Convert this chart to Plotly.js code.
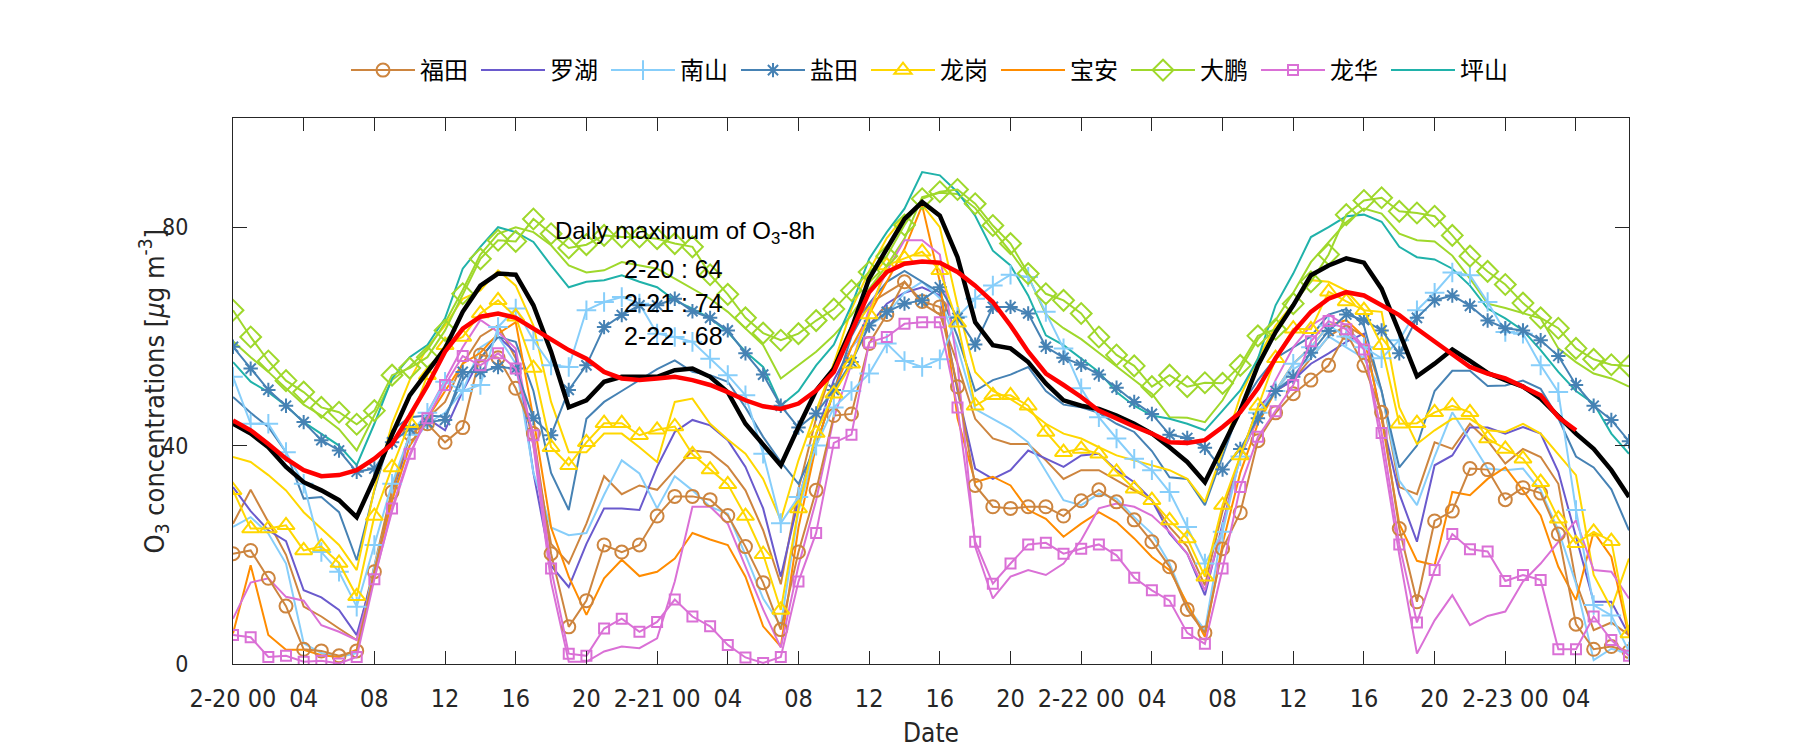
<!DOCTYPE html>
<html><head><meta charset="utf-8">
<script src="https://cdn.plot.ly/plotly-3.0.1.min.js"></script>
<style>body{margin:0;background:#fff}#c{width:1800px;height:750px}</style>
</head><body><div id="c"></div>
<script>
// ---- data (hourly, 2-20 00 .. 2-23 07) ----
const tickVals = [0,4,8,12,16,20,24,28,32,36,40,44,48,52,56,60,64,68,72,76];
const tickText = ['2-20 00','04','08','12','16','20','2-21 00','04','08','12','16','20','2-22 00','04','08','12','16','20','2-23 00','04'];
const yTicks = [0,40,80];

const futian_m = [20.2,20.8,15.7,10.6,2.7,2.4,1.5,2.4,16.9,31.5,42.2,44.0,40.6,43.3,56.6,56.1,50.5,42.2,20.2,6.8,11.6,21.8,20.5,21.8,27.1,30.7,30.7,30.1,27.2,21.5,14.9,6.3,20.5,31.8,45.5,45.8,58.7,64.0,70.0,66.4,65.4,50.8,32.7,28.8,28.5,28.8,28.8,27.1,29.9,31.9,29.7,26.4,22.4,17.8,10.0,5.7,21.1,27.7,40.9,46,49.5,52.0,54.7,60.7,54.7,46.1,24.8,11.4,26.2,28.0,35.8,35.6,30.1,32.3,31.3,23.8,7.3,2.7,3.2,2.3];
const futian_p = [25.7,31.9,26,20,10.5,8.7,6.5,4.4,18,32,42,45,48,55,60,62,56,40,22,18.4,25.7,34.4,31.1,32.7,31.9,35.5,39.1,38.8,36.2,31.8,24.5,14.6,32,45,55,62,66,68,70,66,64,55,44.9,41.3,40.3,40.3,37.3,33.9,35.5,35.5,33.6,31.8,30.0,25.1,21.5,14.4,28,38,45,50,52,56,60,62,60,50,32.4,31.1,40.6,39.4,44.0,40.9,36.7,39.4,37.9,33.0,15,6.2,7.6,5.3];
const luohu = [32.4,28,24.5,22.5,13.5,12.2,9.9,5.3,17,30,42,45,42.8,50,56,60,57,35,18,14.1,22,28.5,28.5,28.2,36.1,42.5,44.7,43.7,41,36.1,28.5,16.0,30,42,52,58,62,66,68,69,67.5,50,35.8,33.9,35.5,39.1,37.6,36.1,38.2,38.5,35.5,33.3,30.0,23.9,20.2,12.6,25.7,38,47,50,52,55.0,56.9,59.0,60.5,45,31.2,22.4,36.4,38.2,43.3,43.3,42.2,43.4,42.2,35.2,23.3,11.4,11.4,5.3];
const nanshan_m = [52.6,44.0,44.0,38.8,33.0,20.5,16.9,10.5,21.8,33,42,46,51.7,50,51.1,61.7,65.1,59.3,54.7,54.4,64.8,66.3,67.2,66.0,60.5,59.9,59.0,55.9,52.9,49.2,38.5,25.8,30.6,40,47,50,53.2,58.7,55.5,54.4,55.8,63.6,66.9,69.3,71.3,70.9,64.5,57.8,50.5,45.2,41.3,37.6,35.5,31.5,25.1,18.4,24.2,38,46,50,55,58,62,60,58,56,59.3,64.8,68,71.7,71.2,66.3,60.8,60.5,54.7,49.8,28.2,10.8,8.9,2.3];
const nanshan_p = [25.1,26.9,23.9,18.4,3.8,2.0,1.3,2.0,18,30,40,44,46,50,58,60,55,35,25,23.6,24.0,31,37.3,34.9,28.5,34.4,31.8,28.8,27.5,20,12,7.1,28,40,50,58,62,64,68,70,67,58,46.7,44.9,43.1,40.6,35.2,30.0,29.1,31.2,30.3,26.9,23.9,18.4,10.5,6.2,25,38,46,50,54,56,60,58,56,50,33.6,29.1,38,46.1,41,35.8,35.5,35.8,31.8,24.5,14.7,0.7,2.8,1.9];
const yantian_m = [58.1,54.1,50.2,47.3,44.3,41.0,39.1,35.2,35.8,40.6,43.1,44.3,44.7,53.5,53.5,54.4,54.1,45,41.9,50.2,54.7,61.7,63.9,65.7,65.7,66.9,64.6,63.4,61.1,56.9,53.0,47.3,43.3,45.9,50.2,55.3,62,64.5,66,66.6,69.0,63.4,58.5,65.4,65.4,64.2,58.1,56.1,54.8,53.0,50.6,48.0,45.8,42.0,41.4,39.6,35.6,39.4,45,50,52.6,57,61,64,63,61.1,56.9,63.4,66.6,67.5,65.6,62.9,61.5,61.1,59.3,56.4,51.1,47.3,44.7,40.8];
const yantian_p = [48.9,46,43.4,38.8,30.3,30.6,27.8,19.0,31.8,42.8,45.2,45.5,45.3,52,56,59.9,59.0,50,35,28.2,44.9,48.0,50,52,54,55.6,53.5,52.9,51.7,47,41.6,37,33.0,40,50,60,66,70,72,70,68,60,50,52,53,54.4,50,47.5,47,46,44,42.5,39,34.2,33.9,29.1,38,47,52,56,58,60,64,65,62,50,36,40,50,53.7,53.7,50.9,51.0,51.9,50.4,45,38,36,32,24.5];
const longgang_m = [31.8,24.8,24.8,25.4,20.8,21.5,18.5,12.4,27.1,36.0,44.1,52.9,58.4,59.9,64.2,66.6,63.6,54.2,39.7,36.4,40.6,44.1,44.1,41.9,42.9,43.5,38.4,35.6,32.9,27.1,20.1,9.9,28.5,42.3,49.5,55.0,64.0,73.0,74.3,75.5,72.1,62.5,47.3,49.2,49.2,47.3,42.5,38.8,39.4,38.5,35.2,32.1,30.0,26.3,23.0,16.0,29.1,38.2,47.3,56,61.4,61.3,68.2,66.4,64.8,58.4,44.0,44.1,46.1,47.3,46.1,41.3,39.4,37.6,33.3,26.6,22.1,24.2,22.5,5.6];
const longgang_p = [37.9,37.0,34.6,31.8,27.8,24.8,21.8,17.2,32,44,52,58,62,66.9,68.4,72.1,69.3,62,48,38.8,38.8,42.2,42.2,39.7,37.0,48.0,48.6,44.0,41.1,38.5,33.9,26.3,37.3,46.4,55,65,72,78,82,84.1,80,65.7,53.5,50,48.5,46.5,44.0,42.2,41.3,39.7,38.2,37.3,36.4,35.5,33.9,29.7,39,49,56,62,66,70.3,70.0,68.4,64.8,64.5,47,40.3,42.8,44.9,44.9,42.8,42.5,44.0,42.2,38.5,34.6,16.3,10.2,19.3];
const baoan = [5.6,18.1,5.3,2.6,2.6,1.6,1.3,2.6,17,30,40,45,50,55,57,60.5,62.6,45,25,16.0,9.0,15.7,19.1,16.1,16.9,19.3,24.0,22.8,21.8,16.0,6.9,3.2,25,40,50,58,64,70,76,84,70,45,33.3,34.3,32.7,28.2,26.6,23.3,25.7,27.8,26.0,23.0,19.6,17.2,11.1,5.0,22,35,44,50,55,58,62,63,60,45,25.7,18.9,18.1,31.5,30.9,33.9,36.0,31.8,27.2,17.8,11.7,24.2,19.6,5.0];
const dapeng_m = [64.8,59.9,55.5,51.9,49.8,47.0,46.1,43.9,46.4,52.9,54.2,56.2,61.1,67.8,74.2,77.6,77.4,81.5,78.8,76.2,76.8,78.5,78.2,78.2,77.9,77.0,76.4,71.3,67.7,63.4,60.6,59.3,60.5,62.9,65.0,68.4,71.8,74.7,80.4,85.2,86.5,86.9,84.3,80.3,77.0,71.5,67.8,66.6,64.2,59.9,56.6,54.6,50.8,52.9,50.8,51.5,51.4,54.7,60.1,61.3,66.0,70.0,75.0,82.3,84.9,85.4,82.9,82.6,82.0,78.5,74.7,71.9,69.5,66.1,63.4,61.5,57.8,55.8,54.8,54.6];
const dapeng_p = [59.1,56.2,53.5,50.5,47.5,45.5,43.0,39.1,45.5,52.0,54.5,57.5,62.5,68.5,75.0,78.8,80.0,79.1,76.7,73.0,71.7,72.1,73.6,73.0,72.4,70.6,68.7,66.9,64.5,61.4,58.4,52.3,54.7,57.2,60.2,63.9,68.7,73.0,77.9,85.5,86.3,86.1,83.5,79.5,75.5,71.0,64.0,61.5,59.5,57.0,54.5,52.0,49.5,45.2,45.1,44.3,48.3,54.0,59.5,63.0,68.0,73.6,77.3,80.9,83.4,82.5,78.8,77.6,77.4,74.8,70.6,66.0,65.2,64.2,63.3,57.8,55.3,53.2,52.3,50.8];
const longhua_m = [5.3,4.9,1.3,1.5,0.4,0.6,0.1,1.3,15.5,28.5,38.5,45,51.1,56.4,54.7,56.9,54.1,41.9,17.5,1.9,1.5,6.5,8.3,5.9,7.7,11.8,8.7,6.9,3.5,1.2,0.2,1.3,15.1,24.0,40.5,42.0,58.9,59.9,62.3,62.6,62.6,47.0,22.4,14.7,18.4,21.9,22.2,20.2,21.1,21.9,19.9,15.8,13.5,11.6,5.7,3.7,17.5,32.4,41.6,46.3,51.1,59.1,62.8,61.3,57.6,42.3,21.9,7.6,17.2,23.8,21.0,20.6,15.2,16.3,15.4,2.7,2.7,8.7,4.4,1.5];
const longhua_p = [8.3,14.9,15.7,12.3,11.6,7.1,5.9,4.4,16,28,38,46,52,58,63,60.8,57.8,40,15,0.4,0.4,2.3,3.2,2.9,4.7,15.1,28.8,28.8,25.7,18,10,3,18,30,45,55,65,72,77.6,77.6,75,55,21.5,12.0,16.0,17.2,16.3,18.4,22.7,28.5,29.4,28.8,27.2,24.2,20.2,13.5,25,38,45,52,58,62,64,62,58,40,20,1.9,8,12.6,7.1,8.8,9.6,15.1,18.4,22.4,26.3,17.2,16.9,12.0];
const pingshan = [55.3,51.7,49.8,47.3,44.3,42.2,40.0,36.4,44.0,52.3,56.2,58.4,63.3,72.4,76.4,80.0,79.1,77.3,73.0,69.0,70.0,70.3,71.2,70.0,69.0,66.6,65.1,63.3,60.8,57.2,54.4,47.3,50.0,54.7,58.5,65.7,74.2,79.1,83.4,90.1,89.5,86.4,82.1,75.7,73.0,67.5,60.2,58.4,55.9,53.5,49.8,47.3,45.5,44.9,44.0,42.8,46.4,50.1,55.9,65.7,71.5,78.2,80.0,82.0,82.3,81.0,76.4,74.5,74.1,72.4,69.3,65.1,63.3,61.1,57.5,53.5,50.0,47.7,42.2,38.5];
const cityMean = [44.0,42.2,39.7,36.1,33.3,31.8,30.0,26.9,34.0,42.0,49.2,53.5,57.8,64.5,69.3,71.5,71.3,65.7,57.2,47.0,48.3,51.7,52.6,52.6,52.6,53.8,54.1,52.6,49.8,44.0,40.3,36.4,43.4,50.1,54.1,61.4,70.6,76.0,81.5,84.6,82.1,74.5,62.6,58.4,57.8,55.3,51.4,48.3,47.3,46.7,45.5,44.0,42.2,39.7,37.0,33.3,39.7,46.4,54.7,60.8,65.7,71.2,73.0,74.3,73.5,68.7,60.8,52.7,55.0,57.6,55.5,53.3,52.0,50.8,48.6,45.5,42.2,39.4,35.5,30.6];
const o3_8h = [44.6,42.8,40.3,37.6,35.5,34.4,34.6,35.5,37.6,40.3,45.5,51.0,57.2,61.4,63.6,64.2,63.4,61.4,59.6,57.5,55.9,53.5,52.3,52.0,52.3,52.6,52.0,51.1,49.8,48.3,47.2,46.7,47.7,50.1,53.5,60.8,68.1,71.8,73.3,73.7,73.5,71.8,69.3,66.3,62.0,57.2,53.2,51.1,48.9,46.4,44.9,43.5,42.2,40.6,40.5,41.0,43.4,46.1,50.5,56.0,60.8,64.5,66.9,68.1,67.5,65.7,63.9,61.4,59.0,56.6,54.4,53.2,52.3,50.8,49.2,45.2,42.8];
const dayLabels = ['2-20','2-21','2-22'];
const dailyMax = [64,74,68];

// ---- styles ----
const C = {futian:'#CD853F', luohu:'#6A5ACD', nanshan:'#87CEFA', yantian:'#4682B4', longgang:'#FFD700', baoan:'#FF8C00', dapeng:'#9FD82B', longhua:'#DA70D6', pingshan:'#20B2AA'};
const hours = futian_m.map((_, i) => i);
function tr(y, name, color, symbol, legend, size){
  const t = {type:'scatter', mode: symbol ? 'lines+markers' : 'lines', x: hours.slice(0, y.length), y: y,
    name: name, showlegend: !!legend, line:{color:color, width:2}, hoverinfo:'skip'};
  if (symbol) t.marker = {symbol: symbol, size: size || 12, color: color, line:{color:color, width:2}};
  return t;
}
const data = [
  tr(futian_p,'福田',C.futian,null,false),
  tr(luohu,'罗湖',C.luohu,null,true),
  tr(nanshan_p,'南山',C.nanshan,null,false),
  tr(yantian_p,'盐田',C.yantian,null,false),
  tr(longgang_p,'龙岗',C.longgang,null,false),
  tr(baoan,'宝安',C.baoan,null,true),
  tr(dapeng_p,'大鹏',C.dapeng,null,false),
  tr(longhua_p,'龙华',C.longhua,null,false),
  tr(pingshan,'坪山',C.pingshan,null,true),
  tr(futian_m,'福田',C.futian,'circle-open',true,13),
  tr(nanshan_m,'南山',C.nanshan,'cross-thin-open',true,14),
  tr(yantian_m,'盐田',C.yantian,'asterisk-open',true,12),
  tr(longgang_m,'龙岗',C.longgang,'triangle-up-open',true,15),
  tr(dapeng_m,'大鹏',C.dapeng,'diamond-open',true,16),
  tr(longhua_m,'龙华',C.longhua,'square-open',true,10),
  {type:'scatter',mode:'lines',x:hours,y:cityMean,showlegend:false,line:{color:'#000',width:4.5},hoverinfo:'skip'},
  {type:'scatter',mode:'lines',x:hours.slice(0,o3_8h.length),y:o3_8h,showlegend:false,line:{color:'#FF0000',width:4.5},hoverinfo:'skip'}
];
const legendOrder = ['福田','罗湖','南山','盐田','龙岗','宝安','大鹏','龙华','坪山'];
data.forEach(t => { if (t.showlegend) t.legendrank = legendOrder.indexOf(t.name) + 1; });

const narrow = "'Liberation Sans Narrow','DejaVu Sans Condensed','Liberation Sans',sans-serif";
const annFont = {family:"'Liberation Sans',Arial,sans-serif", size:25, color:'#000'};
const annotations = [{xref:'paper',yref:'paper',x:0.229,y:0.791,xanchor:'left',yanchor:'middle',showarrow:false,
  text:'Daily maximum of O<sub>3</sub>-8h', font:{family:annFont.family, size:24, color:'#000'}}];
dayLabels.forEach((d, i) => annotations.push({xref:'paper',yref:'paper',x:0.279,y:0.723 - i*0.061,xanchor:'left',yanchor:'middle',showarrow:false,
  text: d + ' : ' + dailyMax[i], font:annFont}));
annotations.push({xref:'paper',yref:'paper',x:-0.057,y:0.5,xanchor:'center',yanchor:'middle',showarrow:false,textangle:-90,
  text:'O<sub>3</sub> concentrations [<i>μ</i>g m<sup>-3</sup>]', font:{family:narrow, size:27, color:'#262626'}});

const layout = {
  width:1800, height:750, paper_bgcolor:'#fff', plot_bgcolor:'#fff',
  margin:{l:233, r:171, t:118, b:86},
  showlegend:true,
  legend:{orientation:'h', x:0.5, xanchor:'center', y:1.087, yanchor:'middle', entrywidth:51, entrywidthmode:'pixels',
    itemwidth:64, font:{family:"'Noto Sans CJK SC',sans-serif", size:24, color:'#000'}, bgcolor:'rgba(0,0,0,0)', traceorder:'normal'},
  xaxis:{range:[0,79], tickmode:'array', tickvals:tickVals, ticktext:tickText, ticks:'inside', ticklen:13, tickcolor:'#262626',
    showline:true, linecolor:'#262626', linewidth:1, mirror:'ticks', showgrid:false, zeroline:false,
    tickfont:{family:narrow, size:25, color:'#262626'}, ticklabelstandoff:12,
    title:{text:'Date', font:{family:narrow, size:26, color:'#262626'}, standoff:11}},
  yaxis:{range:[0,100], tickmode:'array', tickvals:yTicks, ticks:'inside', ticklen:14, tickcolor:'#262626',
    showline:true, linecolor:'#262626', linewidth:1, mirror:'ticks', showgrid:false, zeroline:false,
    tickfont:{family:narrow, size:23, color:'#262626'}, ticklabelstandoff:39},
  annotations: annotations
};
Plotly.newPlot('c', data, layout, {staticPlot:true});
</script></body></html>
